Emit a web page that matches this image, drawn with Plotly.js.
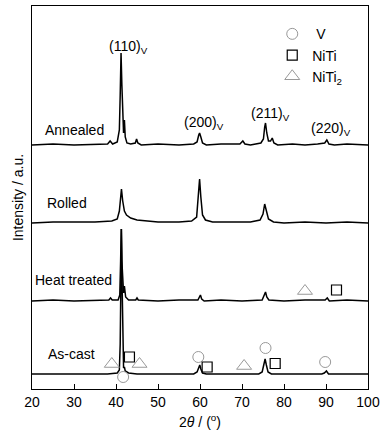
<!DOCTYPE html>
<html>
<head>
<meta charset="utf-8">
<script src="https://cdn.plot.ly/plotly-3.0.1.min.js"></script>
<style>html,body{margin:0;padding:0;background:#fff;}#chart{width:383px;height:433px;}</style>
</head>
<body>
<div id="chart"></div>
<script>
// ---- Data (2θ in degrees, intensity in arbitrary units) ----
const sampleNames = ["Annealed", "Rolled", "Heat treated", "As-cast"];
const sampleOffsets = [244, 166, 88, 15];

const annealedX = [20,25,30,35,38,38.6,39.2,40.3,40.8,41.0,41.2,41.4,41.6,41.8,42.0,42.2,42.6,43.5,44.6,44.9,45.2,46,50,55,58.5,59.3,59.7,59.9,60.2,60.6,61.5,65,69.5,70.2,70.7,72,74.5,75.1,75.4,75.6,75.9,76.3,76.8,77.2,77.6,78.5,82,85,88,89.7,90.2,90.7,92,95,100];
const annealedY = [0,1,0,1,1,4,1,3,15,50,92,60,20,12,25,8,2,1,2,6,2,0,1,0,1,3,10,12,8,2,0,1,1,4,1,0,2,6,18,22,12,4,4,7,2,0,1,0,1,2,5,1,0,1,0];

const rolledX = [20,25,30,35,39,40.3,40.8,41.1,41.3,41.6,42.0,42.5,43.5,45,47,50,55,58,59.2,59.6,59.9,60.2,60.6,61.3,63,68,72,74.3,75.0,75.4,75.8,76.3,77.5,80,85,90,95,100];
const rolledY = [0,1,1,1,2,4,12,30,34,22,12,8,5,3,2,1,1,2,6,25,44,26,8,3,1,1,1,3,9,19,12,4,1,0,1,0,1,0];

const heatX = [20,25,30,35,38.3,38.7,39.1,40.5,40.9,41.1,41.25,41.4,41.6,41.8,42.0,42.3,43,44.7,45,45.3,50,55,59.5,59.9,60.1,60.4,61,65,70,74.8,75.3,75.6,75.9,76.4,80,85,89.8,90.3,90.8,95,100];
const heatY = [0,1,0,1,1,3,1,1,6,40,72,40,12,8,15,4,1,1,3,1,0,1,1,5,6,2,0,1,0,1,5,9,4,1,0,1,1,3,0,1,0];

const castX = [20,25,30,35,38,40.3,40.8,41.0,41.15,41.3,41.45,41.6,41.8,42.0,42.2,43,45,50,55,58.5,59.3,59.7,59.95,60.2,60.6,61.5,65,70,74,74.8,75.2,75.5,75.8,76.2,77,80,85,89,89.6,90.1,90.6,95,100];
const castY = [0,0,0,0,0,1,4,30,100,145,90,25,6,7,3,1,0,0,0,0,2,6,9,5,1,0,0,0,0,2,8,15,9,2,0,0,0,0,1,3,0,0,0];

// Phase markers (2θ, absolute intensity position)
const phaseNames = ["\u00a0V", "NiTi", "NiTi<sub>2</sub>"];
const vX = [41.7, 59.6, 75.6, 89.8];
const vY = [12, 32, 41, 27];
const nitiX = [92.5, 43.2, 61.7, 77.9];
const nitiY = [99, 32, 22, 25.5];
const niti2X = [85.0, 39.0, 45.6, 70.5];
const niti2Y = [98, 25, 25, 23];

// Peak labels
const peakLabels = ["(110)<sub>V</sub>", "(200)<sub>V</sub>", "(211)<sub>V</sub>", "(220)<sub>V</sub>"];
const peakLabelX = [42.9, 60.9, 76.7, 91.2];
const peakLabelY = [342, 266, 275, 260];
const sampleLabelX = [30.1, 28.3, 29.9, 29.5];
const sampleLabelY = [259, 186, 109, 35];

const xTicks = [20,30,40,50,60,70,80,90,100];

// ---- Build ----
const FONT = "Liberation Sans, Arial, sans-serif";
const series = [[annealedX, annealedY],[rolledX, rolledY],[heatX, heatY],[castX, castY]];
const traces = series.map((s, i) => ({
  x: s[0], y: s[1].map(v => v + sampleOffsets[i]),
  type: "scatter", mode: "lines", showlegend: false, hoverinfo: "skip",
  line: {color: "#000", width: 1.5}
}));

traces.push({x: vX, y: vY, name: phaseNames[0], type: "scatter", mode: "markers",
  marker: {symbol: "circle-open", size: 11, color: "#999", line: {color: "#999", width: 1}}});
traces.push({x: nitiX, y: nitiY, name: phaseNames[1], type: "scatter", mode: "markers",
  marker: {symbol: "square-open", size: 10, color: "#000", line: {color: "#000", width: 1.2}}});
traces.push({x: niti2X, y: niti2Y, name: phaseNames[2], type: "scatter", mode: "markers",
  marker: {symbol: "triangle-up-open", size: 13, color: "#999", line: {color: "#999", width: 1}}});

const annotations = [];
peakLabels.forEach((t, i) => annotations.push({x: peakLabelX[i], y: peakLabelY[i], text: t,
  showarrow: false, xanchor: "center", yanchor: "middle", font: {size: 14, color: "#000", family: FONT}}));
sampleNames.forEach((t, i) => annotations.push({x: sampleLabelX[i], y: sampleLabelY[i], text: t,
  showarrow: false, xanchor: "center", yanchor: "middle", font: {size: 14, color: "#000", family: FONT}}));

const layout = {
  width: 383, height: 433,
  margin: {l: 32, r: 15, t: 6, b: 44},
  paper_bgcolor: "#fff", plot_bgcolor: "#fff",
  font: {family: FONT, size: 14, color: "#000"},
  xaxis: {
    range: [20, 100], tickvals: xTicks, ticktext: xTicks.map(String),
    ticks: "inside", ticklen: 5, tickwidth: 1, tickcolor: "#000",
    showline: true, linecolor: "#000", linewidth: 1, mirror: true,
    showgrid: false, zeroline: false,
    tickfont: {size: 14, color: "#000", family: FONT},
    title: {text: "2<i>θ</i> / (<sup>o</sup>)", font: {size: 14, color: "#000", family: FONT}, standoff: 8}
  },
  yaxis: {
    range: [0, 383], showticklabels: false, ticks: "",
    showline: true, linecolor: "#000", linewidth: 1, mirror: true,
    showgrid: false, zeroline: false,
    title: {text: "Intensity / a.u.", font: {size: 14, color: "#000", family: FONT}, standoff: 4}
  },
  showlegend: true,
  legend: {x: 0.715, y: 0.968, xanchor: "left", yanchor: "top", bgcolor: "rgba(0,0,0,0)",
    font: {size: 14, color: "#000", family: FONT}, tracegroupgap: 0},
  annotations: annotations
};

Plotly.newPlot("chart", traces, layout, {staticPlot: true, displayModeBar: false});
</script>
</body>
</html>
